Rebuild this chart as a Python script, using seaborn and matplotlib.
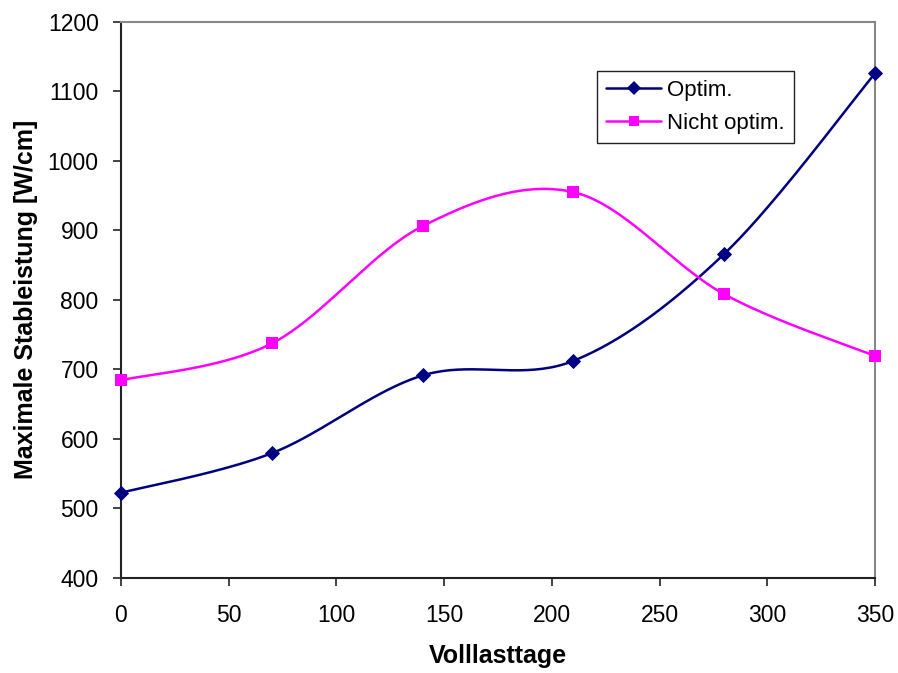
import numpy as np
import pandas as pd
import matplotlib
matplotlib.use("Agg")
import matplotlib.pyplot as plt
from matplotlib.lines import Line2D
import seaborn as sns

# Full-load days and maximum rod power for both loading schemes
volllasttage = [0, 70, 140, 210, 280, 350]
optim = [522, 579, 691, 712, 866, 1126]
nicht_optim = [684, 737, 906, 955, 808, 719]

series_names = ["Optim.", "Nicht optim."]
series_colors = ["#000080", "#FF00FF"]
series_markers = ["D", "s"]
y_ticks = [400, 500, 600, 700, 800, 900, 1000, 1100, 1200]
x_ticks = [0, 50, 100, 150, 200, 250, 300, 350]


def smooth_curve(xs, ys, n=40):
    """Catmull-Rom style cubic Bezier through the points (smoothed line)."""
    xs = np.asarray(xs, float)
    ys = np.asarray(ys, float)
    px = np.concatenate([[xs[0]], xs, [xs[-1]]])
    py = np.concatenate([[ys[0]], ys, [ys[-1]]])
    out_x, out_y = [], []
    t = np.linspace(0, 1, n)
    for i in range(1, len(px) - 2):
        p0 = np.array([px[i], py[i]])
        p3 = np.array([px[i + 1], py[i + 1]])
        c1 = p0 + (np.array([px[i + 1], py[i + 1]]) - np.array([px[i - 1], py[i - 1]])) / 6
        c2 = p3 - (np.array([px[i + 2], py[i + 2]]) - np.array([px[i], py[i]])) / 6
        b = ((1 - t) ** 3)[:, None] * p0 + (3 * (1 - t) ** 2 * t)[:, None] * c1 \
            + (3 * (1 - t) * t ** 2)[:, None] * c2 + (t ** 3)[:, None] * p3
        out_x.extend(b[:, 0])
        out_y.extend(b[:, 1])
    return np.array(out_x), np.array(out_y)


sns.set_style("white")
plt.rcParams["font.family"] = ["Liberation Sans", "DejaVu Sans"]
plt.rcParams["text.color"] = "black"
plt.rcParams["axes.labelcolor"] = "black"
plt.rcParams["xtick.color"] = "black"
plt.rcParams["ytick.color"] = "black"

fig = plt.figure(figsize=(8.98, 6.73), dpi=100)
ax = fig.add_axes([0.1347, 0.1419, 0.9744 - 0.1347, 0.9673 - 0.1419])

points = pd.DataFrame({
    "Volllasttage": volllasttage * 2,
    "Leistung": optim + nicht_optim,
    "Serie": [series_names[0]] * len(optim) + [series_names[1]] * len(nicht_optim),
})

handles = []
for name, vals, col, mk in zip(series_names, [optim, nicht_optim], series_colors, series_markers):
    sx, sy = smooth_curve(volllasttage, vals)
    curve = pd.DataFrame({"x": sx, "y": sy})
    sns.lineplot(data=curve, x="x", y="y", ax=ax, color=col, lw=1.8,
                 sort=False, estimator=None, legend=False, zorder=2)
    sub = points[points["Serie"] == name]
    sns.scatterplot(data=sub, x="Volllasttage", y="Leistung", ax=ax, color=col,
                    marker=mk, s=60 if mk == "D" else 64, edgecolor=col,
                    linewidth=0, legend=False, zorder=3, clip_on=False)
    handles.append(Line2D([0], [0], color=col, lw=1.8, marker=mk,
                          markersize=7.5 if mk == "D" else 7.5, markeredgewidth=0))

ax.set_xlim(0, 350)
ax.set_ylim(400, 1200)
ax.set_xticks(x_ticks)
ax.set_yticks(y_ticks)
ax.tick_params(axis="both", direction="out", length=6, width=1.2, color="#222222",
               labelsize=16.5, labelcolor="black", left=True, bottom=True)
ax.tick_params(axis="y", pad=10)
ax.tick_params(axis="x", pad=13)

for side in ["left", "bottom"]:
    ax.spines[side].set_color("#222222")
    ax.spines[side].set_linewidth(1.5)
for side in ["top", "right"]:
    ax.spines[side].set_color("#888888")
    ax.spines[side].set_linewidth(1.5)

ax.set_xlabel("Volllasttage", fontsize=18, fontweight="bold", labelpad=12, color="black")
ax.set_ylabel("Maximale Stableistung [W/cm]", fontsize=18, fontweight="bold",
              labelpad=7, color="black")

leg = ax.legend(handles, series_names, loc="upper left",
                bbox_to_anchor=((597 - 121) / 754, (577.5 - 71) / 555.5),
                fontsize=16, frameon=True, fancybox=False, framealpha=1,
                edgecolor="#222222", borderpad=0.4, handlelength=2.5,
                handletextpad=0.25, labelspacing=0.55, borderaxespad=0)
leg.get_frame().set_linewidth(1.0)

fig.savefig("out.png", dpi=100)
